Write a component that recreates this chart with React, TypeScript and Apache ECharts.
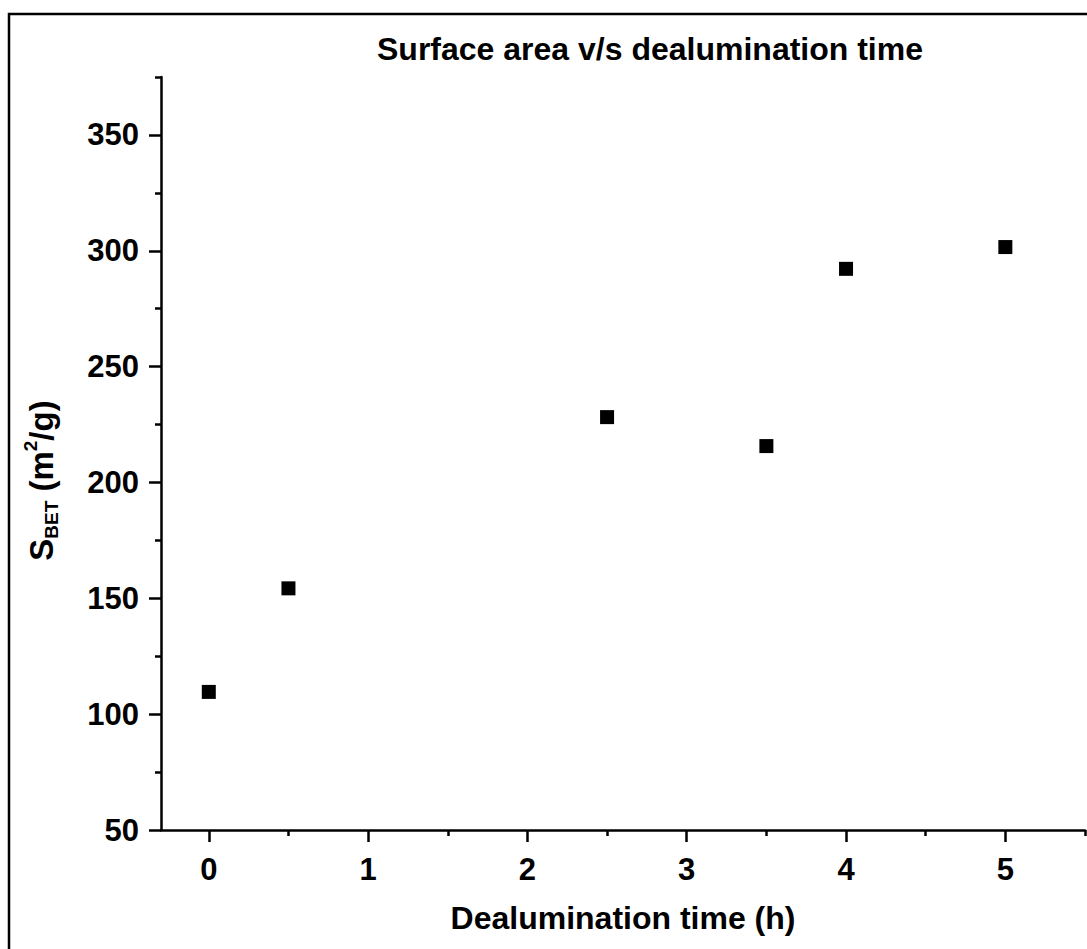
import React, { useEffect, useRef } from "react";
import * as echarts from "echarts";

const hours = [0, 0.5, 2.5, 3.5, 4, 5];
const sbet = [109.6, 154.3, 228.2, 215.7, 292.2, 301.6];
const xMajor = [0, 1, 2, 3, 4, 5];
const xMinor = [0.5, 1.5, 2.5, 3.5, 4.5, 5.5];
const yMajor = [50, 100, 150, 200, 250, 300, 350];
const yMinor = [75, 125, 175, 225, 275, 325, 375];

const FONT = "'Liberation Sans', Arial, sans-serif";

export default function App() {
  const ref = useRef<HTMLDivElement>(null);
  useEffect(() => {
    const chart = echarts.init(ref.current!, null, { renderer: "svg" });
    const axisLine = { show: true, onZero: false, lineStyle: { color: "#000", width: 2.5 } };
    const hiddenLine = { show: false, onZero: false };
    const labelStyle = { color: "#000", fontFamily: FONT, fontWeight: "bold" as const, fontSize: 31 };
    const big = { fontFamily: FONT, fontWeight: "bold" as const, fontSize: 33, color: "#000", lineHeight: 40 };
    const small = { fontFamily: FONT, fontWeight: "bold" as const, fontSize: 19, color: "#000", lineHeight: 40 };
    chart.setOption({
      animation: false,
      backgroundColor: "#fff",
      title: {
        text: "Surface area v/s dealumination time",
        left: 645,
        top: 28,
        textAlign: "center",
        textStyle: { color: "#000", fontFamily: FONT, fontWeight: "bold", fontSize: 32 },
      },
      graphic: [
        {
          type: "rect",
          shape: { x: 9, y: 14, width: 1200, height: 1100 },
          style: { fill: "none", stroke: "#000", lineWidth: 2.5 },
          silent: true,
        },
      ],
      grid: { left: 161, right: 2, top: 77, bottom: 119, containLabel: false },
      xAxis: [
        {
          type: "value",
          min: -0.3,
          max: 5.5,
          position: "bottom",
          axisLine,
          axisTick: { show: true, length: 12, lineStyle: { width: 2.5, color: "#000" }, customValues: xMajor },
          axisLabel: { ...labelStyle, margin: 24, customValues: xMajor },
          splitLine: { show: false },
          name: "Dealumination time (h)",
          nameLocation: "middle",
          nameGap: 72,
          nameTextStyle: { ...labelStyle, fontSize: 32 },
        },
        {
          type: "value",
          min: -0.3,
          max: 5.5,
          position: "bottom",
          axisLine: hiddenLine,
          axisTick: { show: true, length: 6, lineStyle: { width: 2.5, color: "#000" }, customValues: xMinor },
          axisLabel: { show: false },
          splitLine: { show: false },
        },
      ],
      yAxis: [
        {
          type: "value",
          min: 50,
          max: 375,
          position: "left",
          axisLine,
          axisTick: { show: true, length: 12, lineStyle: { width: 2.5, color: "#000" }, customValues: yMajor },
          axisLabel: { ...labelStyle, margin: 22, customValues: yMajor },
          splitLine: { show: false },
          name: "{s|S}{sub|BET}{t| (m}{sup|2}{t|/g)}",
          nameLocation: "middle",
          nameRotate: 90,
          nameGap: 100,
          nameTextStyle: {
            ...labelStyle,
            fontSize: 33,
            padding: [0, 54, 0, 0],
            rich: {
              s: big,
              t: big,
              sub: { ...small, verticalAlign: "bottom", padding: [18, 0, 0, 0] },
              sup: { ...small, verticalAlign: "top", padding: [0, 0, 16, 0] },
            },
          },
        },
        {
          type: "value",
          min: 50,
          max: 375,
          position: "left",
          axisLine: hiddenLine,
          axisTick: { show: true, length: 6, lineStyle: { width: 2.5, color: "#000" }, customValues: yMinor },
          axisLabel: { show: false },
          splitLine: { show: false },
        },
      ],
      series: [
        {
          type: "scatter",
          xAxisIndex: 0,
          yAxisIndex: 0,
          symbol: "rect",
          symbolSize: 14,
          itemStyle: { color: "#000", opacity: 1 },
          data: hours.map((h, i) => [h, sbet[i]]),
        },
      ],
    });
    return () => chart.dispose();
  }, []);
  return (
    <div
      ref={ref}
      style={{ position: "absolute", left: 0, top: 0, width: 1087, height: 949 }}
    />
  );
}
